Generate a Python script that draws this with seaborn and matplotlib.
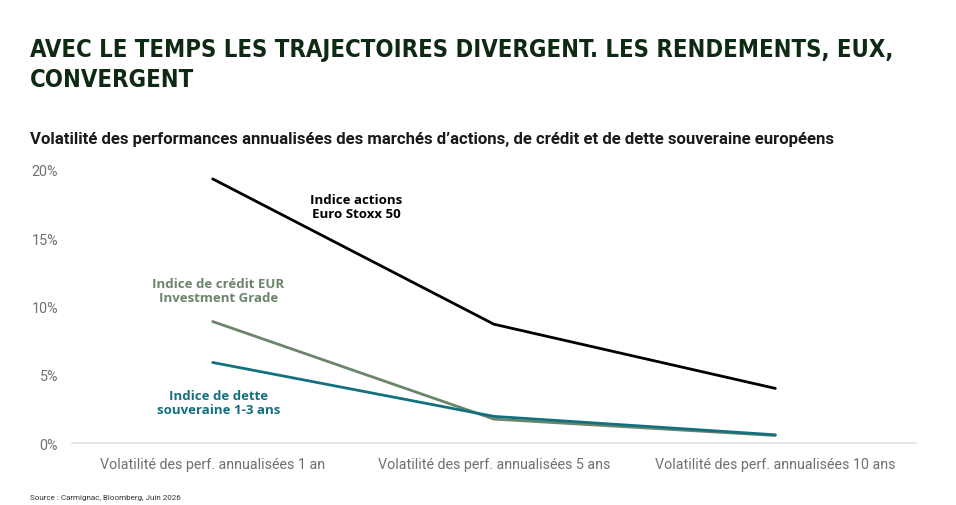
import matplotlib
matplotlib.use("Agg")
import matplotlib.pyplot as plt
import seaborn as sns
import pandas as pd
from matplotlib.ticker import FuncFormatter

categories = ["Volatilité des perf. annualisées 1 an",
              "Volatilité des perf. annualisées 5 ans",
              "Volatilité des perf. annualisées 10 ans"]
actions = [19.35, 8.7, 4.0]
credit = [8.9, 1.75, 0.55]
souverain = [5.9, 1.95, 0.6]
series_names = ["Indice actions\nEuro Stoxx 50",
                "Indice de crédit EUR\nInvestment Grade",
                "Indice de dette\nsouveraine 1-3 ans"]
yticks = [0, 5, 10, 15, 20]

colors = ["#000000", "#6b846a", "#13707f"]

rows = []
for name, vals in zip(series_names, [actions, credit, souverain]):
    for i, (c, v) in enumerate(zip(categories, vals)):
        rows.append({"cat": i, "serie": name, "val": v})
df = pd.DataFrame(rows)

sns.set_theme(style="white")
plt.rcParams['font.family'] = ['Open Sans', 'DejaVu Sans']

fig = plt.figure(figsize=(9.56, 5.06), dpi=100)
ax = fig.add_axes([72/956, 1-444/506, (916-72)/956, (444-171)/506])

sns.lineplot(data=df, x="cat", y="val", hue="serie", palette=colors,
             linewidth=2.0, ax=ax, legend=False, sort=False)

ax.set_xlim(-0.5, 2.5)
ax.set_ylim(0, 20)
ax.set_yticks(yticks)
ax.yaxis.set_major_formatter(FuncFormatter(lambda v, p: f"{int(v)}%"))
ax.set_xticks(range(len(categories)))
ax.set_xticklabels(categories)
ax.set_xlabel("")
ax.set_ylabel("")
for s in ["top", "right", "left"]:
    ax.spines[s].set_visible(False)
ax.spines["bottom"].set_color("#e0e0e0")
ax.spines["bottom"].set_linewidth(1.2)
ax.tick_params(axis="both", length=0, colors="#707070")
ax.tick_params(axis="y", pad=10)
ax.tick_params(axis="x", pad=10)
for lab in ax.get_xticklabels() + ax.get_yticklabels():
    lab.set_family(['Roboto', 'DejaVu Sans'])
    lab.set_fontsize(10.3)

# series labels
ax.text(0.51, 17.3, series_names[0], color=colors[0], fontsize=9.5,
        fontweight="bold", ha="center", va="center", linespacing=1.1)
ax.text(0.02, 11.2, series_names[1], color=colors[1], fontsize=9.5,
        fontweight="bold", ha="center", va="center", linespacing=1.1)
ax.text(0.02, 2.95, series_names[2], color=colors[2], fontsize=9.5,
        fontweight="bold", ha="center", va="center", linespacing=1.1)

title_color = "#0f2a12"
fig.text(30/956, 1-38/506, "AVEC LE TEMPS LES TRAJECTOIRES DIVERGENT. LES RENDEMENTS, EUX,\nCONVERGENT",
         family=['DejaVu Sans'], fontstretch='condensed', fontweight="bold",
         fontsize=17.1, color=title_color, va="top", ha="left", linespacing=1.3)
fig.text(30/956, 1-140/506,
         "Volatilité des performances annualisées des marchés d’actions, de crédit et de dette souveraine européens",
         family=['Roboto', 'DejaVu Sans'], fontweight="bold",
         fontsize=12.1, color="#1a1a1a", va="center", ha="left")
fig.text(30/956, 1-498/506, "Source : Carmignac, Bloomberg, Juin 2026",
         family=['Roboto', 'DejaVu Sans'], fontsize=5.8,
         color="#333333", va="center", ha="left")

fig.savefig("out.png", dpi=100)
